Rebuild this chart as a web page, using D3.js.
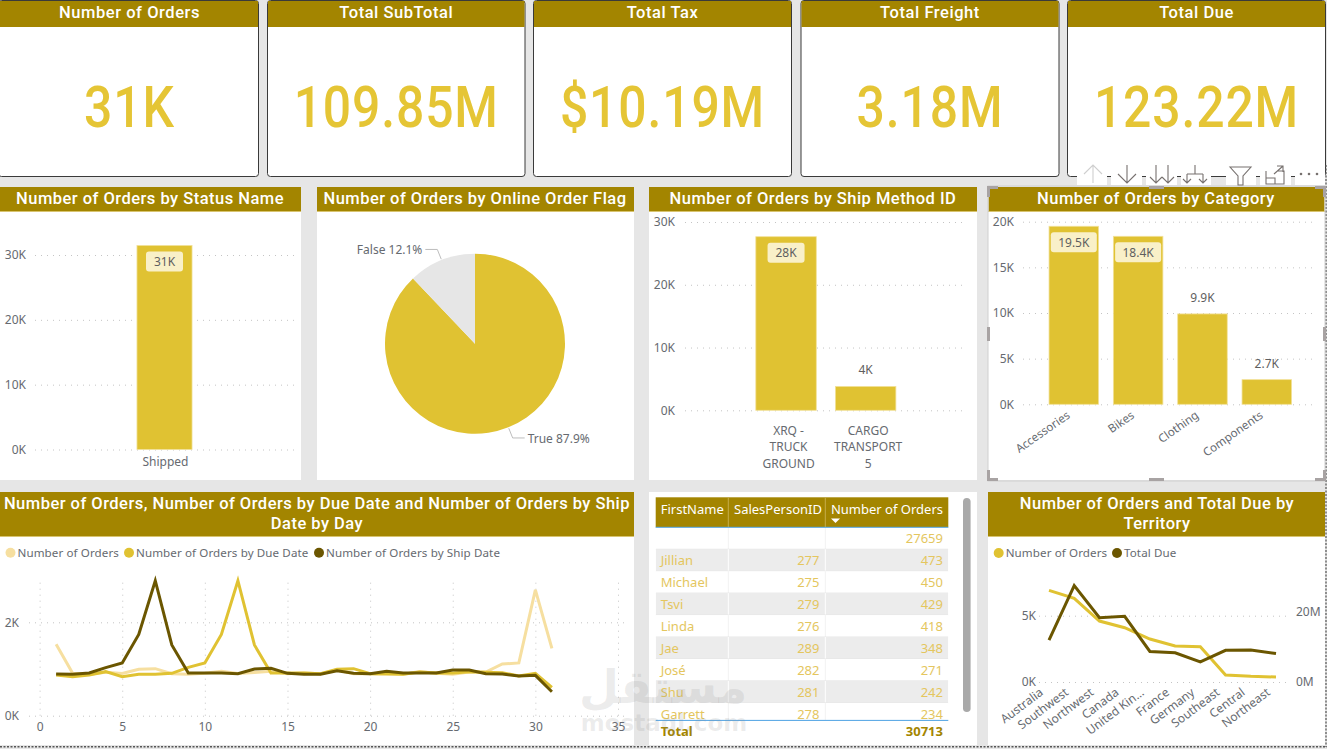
<!DOCTYPE html>
<html>
<head>
<meta charset="utf-8">
<title>Orders dashboard</title>
<script src="https://cdn.jsdelivr.net/npm/d3@7/dist/d3.min.js"></script>
<style>
  html, body { margin: 0; padding: 0; background: #e6e6e6; overflow: hidden; }
  svg { display: block; }
  text { font-family: "Noto Sans", "Open Sans", sans-serif; }
  .title, .kpi { font-family: Roboto, sans-serif; }
  .domain { display: none; }
</style>
</head>
<body>
<svg id="board" width="1327" height="749"></svg>
<script>
// ---- data -------------------------------------------------------------
const kpiTitles = ["Number of Orders", "Total SubTotal", "Total Tax", "Total Freight", "Total Due"];
const kpiValues = ["31K", "109.85M", "$10.19M", "3.18M", "123.22M"];

const statusNames = ["Shipped"];
const statusOrders = [31465];

const onlineFlags = ["True", "False"];
const onlineShare = [87.9, 12.1];

const shipMethods = ["XRQ - TRUCK GROUND", "CARGO TRANSPORT 5"];
const shipMethodLines = [["XRQ -", "TRUCK", "GROUND"], ["CARGO", "TRANSPORT", "5"]];
const shipOrders = [27659, 3806];

const categories = ["Accessories", "Bikes", "Clothing", "Components"];
const categoryOrders = [19500, 18400, 9900, 2700];

const days = [1,2,3,4,5,6,7,8,9,10,11,12,13,14,15,16,17,18,19,20,21,22,23,24,25,26,27,28,29,30,31];
const ordersByDay = [1530,907,886,930,905,993,1007,900,886,907,950,905,925,950,900,914,900,980,900,900,886,886,945,907,886,936,936,1107,1130,2693,1443];
const ordersByDueDate = [871,836,871,943,836,886,886,907,1036,1130,1740,2890,1515,914,914,914,900,993,1007,900,900,886,936,914,914,943,929,921,850,907,607];
const ordersByShipDate = [893,886,914,1030,1130,1740,2890,1515,914,914,914,900,1000,1014,907,886,886,964,907,900,950,914,914,914,980,980,900,893,850,864,514];

const territories = ["Australia", "Southwest", "Northwest", "Canada", "United Kin...", "France", "Germany", "Southeast", "Central", "Northeast"];
const territoryOrders = [6910, 6306, 4598, 4095, 3241, 2713, 2663, 528, 427, 377];
const territoryDue = [11.9, 27.4, 18.3, 18.7, 8.7, 8.3, 5.7, 9.0, 9.1, 8.1];

const tableColumns = ["FirstName", "SalesPersonID", "Number of Orders"];
const firstNames = ["", "Jillian", "Michael", "Tsvi", "Linda", "Jae", "José", "Shu", "Garrett"];
const salesPersonIds = ["", 277, 275, 279, 276, 289, 282, 281, 278];
const personOrders = [27659, 473, 450, 429, 418, 348, 271, 242, 234];
const tableTotal = 30713;

// ---- palette ----------------------------------------------------------
const HEADER = "#a38500", YELLOW = "#e0c232", PALE = "#f6dfa0", DARK = "#6b5600";
const BADGE = "#f9f0c8", AXIS_TEXT = "#666a70", GRID = "#c4c4c4", TABLE_TEXT = "#e4c65e";

const svg = d3.select("#board");

// ---- shared helpers ---------------------------------------------------
function panel(x, y, w, h) {
  svg.append("rect").attr("x", x).attr("y", y).attr("width", w).attr("height", h).attr("fill", "#fff");
}

function header(x, y, w, h, lines, cx, size = 16.5) {
  svg.append("rect").attr("x", x).attr("y", y).attr("width", w).attr("height", h).attr("fill", HEADER);
  svg.append("rect").attr("x", x).attr("y", y + h - 1).attr("width", w).attr("height", 1).attr("fill", "#d8c470");
  const lh = 20;
  lines.forEach((line, i) => {
    svg.append("text").attr("class", "title")
      .attr("x", cx).attr("y", y + h / 2 + (i - (lines.length - 1) / 2) * lh + 4.7)
      .attr("text-anchor", "middle").attr("fill", "#fff")
      .attr("font-size", size).attr("font-weight", 500).attr("letter-spacing", 0.48)
      .text(line);
  });
}

const kLabel = d => `${d / 1000}K`;

function styleAxis(g, size = 12) {
  g.selectAll(".tick text").attr("fill", AXIS_TEXT).attr("font-size", size);
  g.selectAll(".tick line").attr("stroke", GRID).attr("stroke-dasharray", "1 5");
}

function yAxisWithGrid(scale, ticks, left, right, labelX) {
  const g = svg.append("g").attr("transform", `translate(${left},0)`)
    .call(d3.axisLeft(scale).tickValues(ticks).tickFormat(kLabel).tickSize(-(right - left)).tickPadding(left - labelX));
  styleAxis(g);
  g.selectAll(".tick line").attr("x1", 0).attr("x2", right - left);
  return g;
}

function barSeries(names, values, x, y, fmt, badgeWidth) {
  const base = y(0);
  svg.append("g").selectAll("rect").data(values).join("rect")
    .attr("x", (d, i) => x(names[i])).attr("width", x.bandwidth())
    .attr("y", d => y(d)).attr("height", d => base - y(d))
    .attr("fill", YELLOW).attr("stroke", "#f2e199").attr("stroke-width", 0.8);
  values.forEach((v, i) => {
    const cx = x(names[i]) + x.bandwidth() / 2;
    // tall bars carry their label on a badge, short ones above the bar
    const inside = base - y(v) > 100;
    const cy = inside ? y(v) + 16 : y(v) - 16.5;
    if (inside) {
      svg.append("rect").attr("x", cx - badgeWidth / 2).attr("y", cy - 10)
        .attr("width", badgeWidth).attr("height", 20).attr("rx", 3).attr("fill", BADGE);
    }
    svg.append("text").attr("x", cx).attr("y", cy + 4.5).attr("text-anchor", "middle")
      .attr("fill", "#5f5f5f").attr("font-size", 12).text(fmt(v));
  });
}

function legend(items, cy) {
  items.forEach(it => {
    svg.append("circle").attr("cx", it.cx).attr("cy", cy).attr("r", 5).attr("fill", it.color);
    svg.append("text").attr("x", it.cx + 7).attr("y", cy + 4).attr("fill", AXIS_TEXT)
      .attr("font-size", 11.6).attr("letter-spacing", 0.1).text(it.label);
  });
}

// ---- KPI cards --------------------------------------------------------
const cardX = d3.scaleOrdinal().domain(kpiTitles).range([-2, 267, 533, 800.5, 1067]);
const cardW = d3.scaleOrdinal().domain(kpiTitles).range([260, 257.5, 258, 258, 258]);
kpiTitles.forEach((t, i) => {
  const x = cardX(t), w = cardW(t);
  svg.append("rect").attr("x", x + 0.5).attr("y", 0.5).attr("width", w).attr("height", 176)
    .attr("rx", 3).attr("fill", "#fff").attr("stroke", "#3a3a3a");
  svg.append("rect").attr("x", x + 1).attr("y", 1).attr("width", w - 1).attr("height", 26).attr("fill", HEADER);
  const cx = i === 0 ? 129.5 : x + w / 2 + 0.5;
  svg.append("text").attr("class", "title").attr("x", cx).attr("y", 18)
    .attr("text-anchor", "middle").attr("fill", "#fff").attr("font-size", 16.5)
    .attr("font-weight", 500).attr("letter-spacing", 0.55).text(t);
  svg.append("text").attr("class", "kpi")
    .attr("transform", `translate(${cx},126.5) scale(0.86,1)`)
    .attr("text-anchor", "middle").attr("fill", "#e5c535").attr("font-size", 58)
    .attr("font-weight", 500).attr("letter-spacing", 1).text(kpiValues[i]);
});

// ---- orders by status -------------------------------------------------
panel(0, 187, 301, 293);
header(0, 187, 301, 25, ["Number of Orders by Status Name"], 150);
{
  const y = d3.scaleLinear().domain([0, 30000]).range([449.5, 255]);
  const x = d3.scaleBand().domain(statusNames).range([34, 295]).paddingInner(0).paddingOuter(1.87);
  yAxisWithGrid(y, [0, 10000, 20000, 30000], 35, 297, 26);
  barSeries(statusNames, statusOrders, x, y, d => `${Math.round(d / 1000)}K`, 37);
  svg.append("text").attr("x", 165.5).attr("y", 466).attr("text-anchor", "middle")
    .attr("fill", AXIS_TEXT).attr("font-size", 12).text(statusNames[0]);
}

// ---- orders by online flag --------------------------------------------
panel(317, 187, 317, 293);
header(317, 187, 317, 25, ["Number of Orders by Online Order Flag"], 475);
{
  const pieGroup = svg.append("g").attr("transform", "translate(475,343.7)");
  const slices = d3.pie().sort(null)(onlineShare);
  const arc = d3.arc().innerRadius(0).outerRadius(90);
  const sliceColor = d3.scaleOrdinal().domain(onlineFlags).range([YELLOW, "#e6e6e6"]);
  pieGroup.selectAll("path").data(slices).join("path")
    .attr("d", arc).attr("fill", (d, i) => sliceColor(onlineFlags[i]));
  const ringAt = r => d3.arc().innerRadius(r).outerRadius(r);
  slices.forEach((s, i) => {
    const start = ringAt(91).centroid(s), elbow = ringAt(101.5).centroid(s);
    const side = elbow[0] >= 0 ? 1 : -1;
    pieGroup.append("polyline")
      .attr("points", [start, elbow, [elbow[0] + side * 12, elbow[1]]].join(" "))
      .attr("fill", "none").attr("stroke", "#bdbdbd").attr("stroke-width", 1);
    pieGroup.append("text").attr("x", elbow[0] + side * 15).attr("y", elbow[1] + 5)
      .attr("text-anchor", side > 0 ? "start" : "end").attr("fill", AXIS_TEXT).attr("font-size", 12)
      .text(`${onlineFlags[i]} ${onlineShare[i].toFixed(1)}%`);
  });
}

// ---- orders by ship method --------------------------------------------
panel(649, 187, 328, 293);
header(649, 187, 328, 25, ["Number of Orders by Ship Method ID"], 813);
{
  const y = d3.scaleLinear().domain([0, 30000]).range([410.3, 222]);
  const x = d3.scaleBand().domain(shipMethods).range([685, 966.7]).paddingInner(0.24).paddingOuter(0.89);
  yAxisWithGrid(y, [0, 10000, 20000, 30000], 685, 967, 675);
  barSeries(shipMethods, shipOrders, x, y, d => `${Math.round(d / 1000)}K`, 37);
  shipMethods.forEach((m, i) => {
    shipMethodLines[i].forEach((line, j) => {
      svg.append("text").attr("x", x(m) + x.bandwidth() / 2 + 2.5).attr("y", 435 + j * 16.4)
        .attr("text-anchor", "middle").attr("fill", AXIS_TEXT).attr("font-size", 12).text(line);
    });
  });
}

// ---- orders by category (selected visual) -----------------------------
panel(988, 187, 337, 293);
header(988.5, 187, 336, 25, ["Number of Orders by Category"], 1156);
{
  const y = d3.scaleLinear().domain([0, 20000]).range([404.3, 221.7]);
  const x = d3.scaleBand().domain(categories).range([1023.3, 1317.3]).paddingInner(0.23).paddingOuter(0.4);
  yAxisWithGrid(y, [0, 5000, 10000, 15000, 20000], 1023, 1317, 1014);
  barSeries(categories, categoryOrders, x, y, d => `${(d / 1000).toFixed(1)}K`, 46);
  categories.forEach(c => {
    svg.append("text")
      .attr("transform", `translate(${x(c) + x.bandwidth() / 2 - 3},${417}) rotate(-35)`)
      .attr("text-anchor", "end").attr("fill", AXIS_TEXT).attr("font-size", 11.6).text(c);
  });
}

// ---- daily orders by order, due and ship date -------------------------
panel(0, 492, 634, 253);
header(0, 492, 634, 45, ["Number of Orders, Number of Orders by Due Date and Number of Orders by Ship", "Date by Day"], 317);
legend([
  { cx: 10.5, color: PALE, label: "Number of Orders" },
  { cx: 129, color: YELLOW, label: "Number of Orders by Due Date" },
  { cx: 319, color: DARK, label: "Number of Orders by Ship Date" }
], 552.7);
{
  const x = d3.scaleLinear().domain([0, 35]).range([39.6, 618]);
  const y = d3.scaleLinear().domain([0, 2000]).range([715.7, 622.3]);
  const yg = svg.append("g").attr("transform", "translate(29,0)")
    .call(d3.axisLeft(y).tickValues([0, 2000]).tickFormat(kLabel).tickSize(-599).tickPadding(0));
  styleAxis(yg);
  yg.selectAll(".tick line").attr("x1", 0).attr("x2", 599);
  yg.selectAll(".tick text").attr("x", -10).attr("text-anchor", "end");
  const xg = svg.append("g").attr("transform", "translate(0,715.7)")
    .call(d3.axisBottom(x).tickValues(d3.range(0, 36, 5)).tickSizeInner(-137).tickPadding(6));
  styleAxis(xg);
  xg.selectAll(".tick text").attr("y", 7);
  const line = d3.line().x((d, i) => x(days[i])).y(d => y(d));
  [[ordersByDay, PALE], [ordersByDueDate, YELLOW], [ordersByShipDate, DARK]].forEach(([vals, color]) => {
    svg.append("path").attr("d", line(vals)).attr("fill", "none").attr("stroke", color)
      .attr("stroke-width", 3).attr("stroke-linejoin", "miter");
  });
}

// ---- top sales people table -------------------------------------------
panel(649, 492, 328, 253);
{
  const left = 655.7, right = 948.3, sep1 = 728.3, sep2 = 825.3;
  const top = 527.3, rowH = 21.95;
  svg.append("clipPath").attr("id", "rowsClip").append("rect")
    .attr("x", left).attr("y", top).attr("width", right - left).attr("height", 720.3 - top);
  svg.append("rect").attr("x", left).attr("y", 497.3).attr("width", right - left).attr("height", top - 497.3).attr("fill", HEADER);
  [sep1, sep2].forEach(s => svg.append("line").attr("x1", s).attr("x2", s).attr("y1", 497.3).attr("y2", top).attr("stroke", "#c6ad4a"));
  const rows = svg.append("g").attr("clip-path", "url(#rowsClip)");
  personOrders.forEach((v, i) => {
    const ry = top + i * rowH, cy = ry + rowH / 2 + 4.8;
    rows.append("rect").attr("x", left).attr("y", ry).attr("width", right - left).attr("height", rowH)
      .attr("fill", i % 2 ? "#ececec" : "#fff");
    [sep1, sep2].forEach(s => rows.append("line").attr("x1", s).attr("x2", s).attr("y1", ry).attr("y2", ry + rowH)
      .attr("stroke", i % 2 ? "#fff" : "#f2f2f2"));
    rows.append("line").attr("x1", left).attr("x2", right).attr("y1", ry + rowH).attr("y2", ry + rowH).attr("stroke", "#e4e4e4");
    rows.append("text").attr("x", 660.7).attr("y", cy).attr("fill", TABLE_TEXT).attr("font-size", 13).text(firstNames[i]);
    rows.append("text").attr("x", 819.5).attr("y", cy).attr("text-anchor", "end").attr("fill", TABLE_TEXT).attr("font-size", 13).text(salesPersonIds[i]);
    rows.append("text").attr("x", 943).attr("y", cy).attr("text-anchor", "end").attr("fill", TABLE_TEXT).attr("font-size", 13).text(v);
  });
  const colText = [[660.7, "start"], [734, "start"], [943, "end"]];
  tableColumns.forEach((c, i) => {
    svg.append("text").attr("x", colText[i][0]).attr("y", 514).attr("text-anchor", colText[i][1])
      .attr("fill", "#fff").attr("font-size", 13).text(c);
  });
  svg.append("path").attr("d", "M831,518.5h9l-4.5,4.5z").attr("fill", "#fff");
  svg.append("line").attr("x1", left).attr("x2", right).attr("y1", top).attr("y2", top).attr("stroke", "#4fa3e3");
  svg.append("line").attr("x1", left).attr("x2", right).attr("y1", 720.4).attr("y2", 720.4).attr("stroke", "#4fa3e3");
  svg.append("text").attr("x", 660.7).attr("y", 735.5).attr("fill", HEADER).attr("font-size", 13).attr("font-weight", 700).text("Total");
  svg.append("text").attr("x", 943).attr("y", 735.5).attr("text-anchor", "end").attr("fill", HEADER).attr("font-size", 13).attr("font-weight", 700).text(tableTotal);
  svg.append("rect").attr("x", 963).attr("y", 498).attr("width", 7.6).attr("height", 214).attr("rx", 3.8).attr("fill", "#a9a9a9");
}

// ---- orders and total due by territory --------------------------------
panel(988, 492, 337, 253);
header(988, 492, 337, 45, ["Number of Orders and Total Due by", "Territory"], 1157);
legend([
  { cx: 998.7, color: YELLOW, label: "Number of Orders" },
  { cx: 1117, color: DARK, label: "Total Due" }
], 553);
{
  const x = d3.scalePoint().domain(territories).range([1049, 1276]);
  const yOrders = d3.scaleLinear().domain([0, 5000]).range([682, 615.7]);
  const yDue = d3.scaleLinear().domain([0, 20]).range([682, 611.7]);
  const g = svg.append("g").attr("transform", "translate(1039,0)")
    .call(d3.axisLeft(yOrders).tickValues([0, 5000]).tickFormat(kLabel).tickSize(-247).tickPadding(0));
  styleAxis(g);
  g.selectAll(".tick line").attr("x1", 0).attr("x2", 247);
  g.selectAll(".tick text").attr("x", -3).attr("text-anchor", "end");
  const r = svg.append("g").attr("transform", "translate(1296,0)")
    .call(d3.axisRight(yDue).tickValues([0, 20]).tickFormat(d => `${d}M`).tickSize(0).tickPadding(0));
  styleAxis(r);
  r.selectAll(".tick text").attr("x", 0);
  territories.forEach(t => {
    svg.append("text").attr("transform", `translate(${x(t) - 5},${694}) rotate(-37)`)
      .attr("text-anchor", "end").attr("fill", AXIS_TEXT).attr("font-size", 12).text(t);
  });
  const orderLine = d3.line().x((d, i) => x(territories[i])).y(d => yOrders(d));
  const dueLine = d3.line().x((d, i) => x(territories[i])).y(d => yDue(d));
  svg.append("path").attr("d", orderLine(territoryOrders)).attr("fill", "none").attr("stroke", YELLOW).attr("stroke-width", 3);
  svg.append("path").attr("d", dueLine(territoryDue)).attr("fill", "none").attr("stroke", DARK).attr("stroke-width", 3);
}

// ---- canvas edge, selection frame and visual toolbar ------------------
svg.append("line").attr("x1", 0).attr("x2", 1327).attr("y1", 746.8).attr("y2", 746.8)
  .attr("stroke", "#555").attr("stroke-width", 1.6).attr("stroke-dasharray", "2 1.5");
svg.append("line").attr("x1", 1326).attr("x2", 1326).attr("y1", 165).attr("y2", 747)
  .attr("stroke", "#555").attr("stroke-width", 1.2).attr("stroke-dasharray", "2 1.5");

svg.append("rect").attr("x", 988).attr("y", 186).attr("width", 337).attr("height", 295)
  .attr("fill", "none").attr("stroke", "#cfcfcf").attr("stroke-width", 1);
const frame = svg.append("g").attr("fill", "none").attr("stroke", "#a8a3a3").attr("stroke-width", 3);
["M988.5,197V187.5H998", "M1315,187.5H1324.5V197", "M988.5,470V479.5H998", "M1315,479.5H1324.5V470",
 "M1149,187.5H1164", "M1149,479.5H1164", "M988.5,327V341", "M1324.5,327V341"].forEach(d => frame.append("path").attr("d", d));

const toolbarSlots = [[1077, 30], [1111, 31], [1146, 31], [1181, 30], [1226, 30], [1260, 31], [1295, 30]];
toolbarSlots.forEach(([x, w]) => svg.append("rect").attr("x", x).attr("y", 163).attr("width", w).attr("height", 22).attr("fill", "#fff"));
const icon = (d, color = "#77716f") => svg.append("path").attr("d", d).attr("fill", "none").attr("stroke", color).attr("stroke-width", 1.1);
icon("M1093,183V165M1084,174L1093,165L1102,174", "#cfcfcf");
icon("M1127,165V183M1118,174L1127,183L1136,174");
icon("M1156,165V183M1150,177L1156,183L1162,177M1168,165V183M1162,177L1168,183L1174,177");
icon("M1195,165V174M1187,174H1203M1187,174V183M1203,174V183M1183,179L1187,183L1191,179M1199,179L1203,183L1207,179");
icon("M1230,167H1251L1243,176V185H1238V176Z");
icon("M1266,171V184H1284V171H1277M1266,178H1275V184M1274,174L1283,166M1277,166H1283V172");
svg.append("g").attr("fill", "#77716f").selectAll("circle").data([1301, 1309, 1317]).join("circle")
  .attr("cx", d => d).attr("cy", 174).attr("r", 1.3);

// ---- site watermark ---------------------------------------------------
const mark = svg.append("g").attr("fill", "#8a8a8a").attr("fill-opacity", 0.17).attr("text-anchor", "middle").attr("font-weight", 700);
mark.append("text").attr("x", 663).attr("y", 703).attr("font-size", 46).attr("style", "font-family:'DejaVu Sans',sans-serif").text("مستقل");
mark.append("text").attr("x", 664).attr("y", 731).attr("font-size", 23).attr("style", "font-family:'DejaVu Sans',sans-serif").text("mostaql.com");
</script>
</body>
</html>
